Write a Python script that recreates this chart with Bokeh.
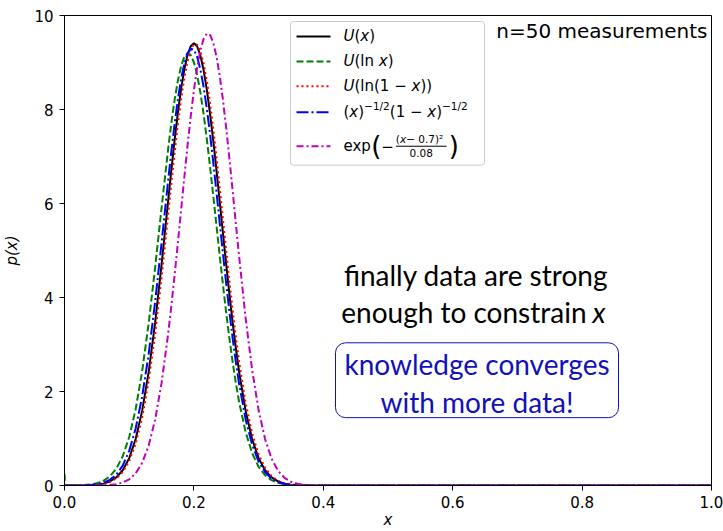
from bokeh.plotting import figure
from bokeh.models import Label, BoxAnnotation, Arrow, Range1d, FixedTicker, PrintfTickFormatter
from bokeh.embed import file_html
from bokeh.resources import INLINE

# ---------------- data ----------------
x = [0.0, 0.001, 0.01, 0.02, 0.03, 0.04, 0.05, 0.06, 0.07, 0.08, 0.09, 0.10,
     0.11, 0.12, 0.13, 0.14, 0.15, 0.16, 0.165, 0.17, 0.175, 0.18, 0.185, 0.19,
     0.195, 0.20, 0.205, 0.21, 0.215, 0.22, 0.225, 0.23, 0.235, 0.24, 0.245,
     0.25, 0.255, 0.26, 0.265, 0.27, 0.28, 0.29, 0.30, 0.31, 0.32, 0.33, 0.34,
     0.35, 0.36, 0.37, 0.38, 0.39, 0.40, 0.42, 0.45, 0.5, 1.0]

p_uniform = [0, 0, 0.0004, 0.0011, 0.003, 0.0076, 0.018, 0.040, 0.086, 0.171, 0.325, 0.583,
             0.989, 1.587, 2.408, 3.457, 4.695, 6.030, 6.693, 7.326, 7.909, 8.419, 8.839, 9.152,
             9.345, 9.410, 9.345, 9.152, 8.839, 8.419, 7.909, 7.326, 6.693, 6.030, 5.358,
             4.695, 4.057, 3.457, 2.906, 2.408, 1.587, 0.989, 0.583, 0.325, 0.171, 0.086, 0.040,
             0.018, 0.0076, 0.003, 0.0011, 0.0004, 0.0001, 0, 0, 0, 0]

p_log = [0.25, 0.0, 0.0016, 0.0041, 0.0098, 0.022, 0.048, 0.099, 0.192, 0.355, 0.621, 1.032,
         1.625, 2.428, 3.442, 4.627, 5.901, 7.137, 7.695, 8.188, 8.598, 8.911, 9.113, 9.198,
         9.161, 9.005, 8.736, 8.363, 7.901, 7.367, 6.778, 6.155, 5.516, 4.878, 4.258,
         3.667, 3.117, 2.615, 2.165, 1.769, 1.134, 0.690, 0.398, 0.218, 0.113, 0.056, 0.026,
         0.0115, 0.0049, 0.0019, 0.0007, 0.0003, 0.0001, 0, 0, 0, 0]

p_log1m = [0, 0, 0.0003, 0.0009, 0.0025, 0.0064, 0.0152, 0.0345, 0.074, 0.149, 0.286, 0.519,
           0.890, 1.443, 2.214, 3.215, 4.415, 5.736, 6.404, 7.051, 7.656, 8.199, 8.660, 9.020,
           9.266, 9.387, 9.380, 9.243, 8.982, 8.609, 8.138, 7.587, 6.975, 6.325, 5.656,
           4.988, 4.339, 3.722, 3.148, 2.627, 1.754, 1.108, 0.662, 0.375, 0.200, 0.101, 0.049,
           0.022, 0.0094, 0.0038, 0.0015, 0.0005, 0.0002, 0, 0, 0, 0]

p_jeffreys = [0.0003, 0.0003, 0.0007, 0.0019, 0.0049, 0.0119, 0.027, 0.058, 0.120, 0.231, 0.424, 0.737,
              1.212, 1.889, 2.787, 3.895, 5.155, 6.463, 7.090, 7.674, 8.193, 8.629, 8.966, 9.191,
              9.293, 9.271, 9.123, 8.857, 8.483, 8.015, 7.470, 6.868, 6.230, 5.575, 4.921,
              4.286, 3.682, 3.120, 2.609, 2.152, 1.405, 0.869, 0.509, 0.283, 0.149, 0.074, 0.035,
              0.0156, 0.0066, 0.0026, 0.0010, 0.0003, 0.0001, 0, 0, 0, 0]

p_gauss = [0, 0, 0, 0.0001, 0.0002, 0.0007, 0.0019, 0.0049, 0.0122, 0.0286, 0.063, 0.132,
           0.260, 0.482, 0.844, 1.396, 2.178, 3.205, 3.805, 4.451, 5.132, 5.832, 6.532, 7.210,
           7.844, 8.411, 8.888, 9.257, 9.503, 9.614, 9.586, 9.420, 9.124, 8.709, 8.194,
           7.597, 6.943, 6.254, 5.551, 4.856, 3.558, 2.460, 1.605, 0.988, 0.574, 0.314, 0.163,
           0.079, 0.036, 0.0159, 0.0065, 0.0025, 0.0009, 0.0001, 0, 0, 0]

x_ticks = [0.0, 0.2, 0.4, 0.6, 0.8, 1.0]
y_ticks = [0, 2, 4, 6, 8, 10]

# ---------------- figure ----------------
FL, FR, FT, FB = 64, 711, 15, 486  # frame edges in page pixels


def dx(px):
    return (px - FL) / (FR - FL)


def dy(py):
    return (FB - py) / (FB - FT) * 10.0


p = figure(width=723, height=531, output_backend="svg", toolbar_location=None,
           x_range=Range1d(0, 1), y_range=Range1d(0, 10),
           min_border_left=FL, min_border_right=723 - FR,
           min_border_top=FT, min_border_bottom=531 - FB)
p.xgrid.visible = False
p.ygrid.visible = False
p.outline_line_color = "black"
p.outline_line_width = 1
p.outline_line_alpha = 1
p.background_fill_color = "white"
p.border_fill_color = "white"

for ax in (p.xaxis[0], p.yaxis[0]):
    ax.major_tick_out = 5
    ax.major_tick_in = 0
    ax.minor_tick_out = 0
    ax.minor_tick_in = 0
    ax.axis_line_color = "black"
    ax.major_tick_line_color = "black"
    ax.major_label_text_font = "DejaVu Sans"
    ax.major_label_text_font_size = "15px"
    ax.major_label_text_color = "black"
    ax.axis_label_text_font = "DejaVu Sans"
    ax.axis_label_text_font_style = "italic"
    ax.axis_label_text_font_size = "15px"
    ax.axis_label_text_color = "black"

p.xaxis.ticker = FixedTicker(ticks=x_ticks)
p.xaxis.formatter = PrintfTickFormatter(format="%.1f")
p.yaxis.ticker = FixedTicker(ticks=y_ticks)
p.xaxis.axis_label = "x"
p.yaxis.axis_label = "p(x)"
p.xaxis.major_label_standoff = 5
p.xaxis.axis_label_standoff = 0
p.yaxis.major_label_standoff = 6
p.yaxis.axis_label_standoff = 10

styles = [
    (p_uniform, "black", None),
    (p_log, "#008000", "7 3"),
    (p_log1m, "#ff0000", "2 3"),
    (p_jeffreys, "#0000ff", "12 3 2 3"),
    (p_gauss, "#bf00bf", "7 3 2 3"),
]
for ys, col, dash in styles:
    kw = dict(line_color=col, line_width=2)
    if dash:
        kw["line_dash"] = dash
    p.line(x, ys, **kw)

# ---------------- legend (drawn by hand to allow math-like labels) ----------------
p.add_layout(BoxAnnotation(left=dx(290), right=dx(484), top=dy(21), bottom=dy(165),
                           fill_color="white", fill_alpha=0.8, line_color="#cccccc",
                           line_alpha=1, line_width=1, border_radius=3))

row_y = [36, 61, 86, 112, 146]
for (ys, col, dash), ry in zip(styles, row_y):
    kw = dict(line_color=col, line_width=2)
    if dash:
        kw["line_dash"] = dash
    p.add_layout(Arrow(x_start=dx(296), y_start=dy(ry), x_end=dx(330), y_end=dy(ry),
                       end=None, **kw))

EM = {' ': 0.318, '(': 0.390, ')': 0.390, '\u2212': 0.838, '.': 0.318, '/': 0.337,
      'U': 0.732, 'x': 0.592, 'l': 0.278, 'n': 0.634, 'e': 0.615, 'p': 0.635, '\u00b2': 0.401}


def adv(s, size):
    return sum(EM.get(c, 0.636) for c in s) * size


def put(px, py, text, size, italic=False, align="left", font="DejaVu Sans", color="black"):
    p.add_layout(Label(x=dx(px), y=dy(py), text=text, text_font=font,
                       text_font_size=f"{size}px",
                       text_font_style="italic" if italic else "normal",
                       text_align=align, text_baseline="middle", text_color=color))


def rich(px, py, pieces):
    cur = px
    for text, size, italic, rise in pieces:
        put(cur, py - rise, text, size, italic)
        cur += adv(text, size)
    return cur


B, S = 15, 10.5
rich(343, row_y[0], [("U", B, True, 0), ("(", B, False, 0), ("x", B, True, 0), (")", B, False, 0)])
rich(343, row_y[1], [("U", B, True, 0), ("(ln ", B, False, 0), ("x", B, True, 0), (")", B, False, 0)])
rich(343, row_y[2], [("U", B, True, 0), ("(ln(1 \u2212 ", B, False, 0), ("x", B, True, 0),
                     ("))", B, False, 0)])
rich(343, row_y[3], [("(", B, False, 0), ("x", B, True, 0), (")", B, False, 0),
                     ("\u22121/2", S, False, 6), ("(1 \u2212 ", B, False, 0), ("x", B, True, 0),
                     (")", B, False, 0), ("\u22121/2", S, False, 6)])
# exp(-(x-0.7)^2/0.08)
cur = rich(343, row_y[4], [("exp", B, False, 0)])
put(cur, row_y[4], "(", 26)
cur += adv("(", 26)
put(cur, row_y[4], "\u2212", B)
cur += adv("\u2212", B) + 2
num_w = adv("(x \u2212 0.7)\u00b2", S)
rich(cur, row_y[4] - 7, [("(", S, False, 0), ("x", S, True, 0), (" \u2212 0.7)\u00b2", S, False, 0)])
put(cur + num_w / 2, row_y[4] + 7, "0.08", S, align="center")
p.add_layout(Arrow(x_start=dx(cur), y_start=dy(row_y[4]), x_end=dx(cur + num_w),
                   y_end=dy(row_y[4]), end=None, line_color="black", line_width=1))
put(cur + num_w + 2, row_y[4], ")", 26)

# ---------------- annotations ----------------
put(707, 31, "n=50 measurements", 20, align="right")

put(475.5, 275, "finally data are strong", 28, align="center", font="Lato")
put(586, 312, "enough to constrain", 28, align="right", font="Lato")
put(592, 312, "x", 28, italic=True, font="Lato")

BLUE = "#1111bb"
p.add_layout(BoxAnnotation(left=dx(335), right=dx(618), top=dy(343), bottom=dy(418),
                           fill_alpha=0, line_color=BLUE, line_alpha=1, line_width=1,
                           border_radius=10))
put(476.5, 364, "knowledge converges", 28, align="center", font="Lato", color=BLUE)
put(476.5, 402, "with more data!", 28, align="center", font="Lato", color=BLUE)

open("out.html", "w").write(file_html(p, INLINE))
